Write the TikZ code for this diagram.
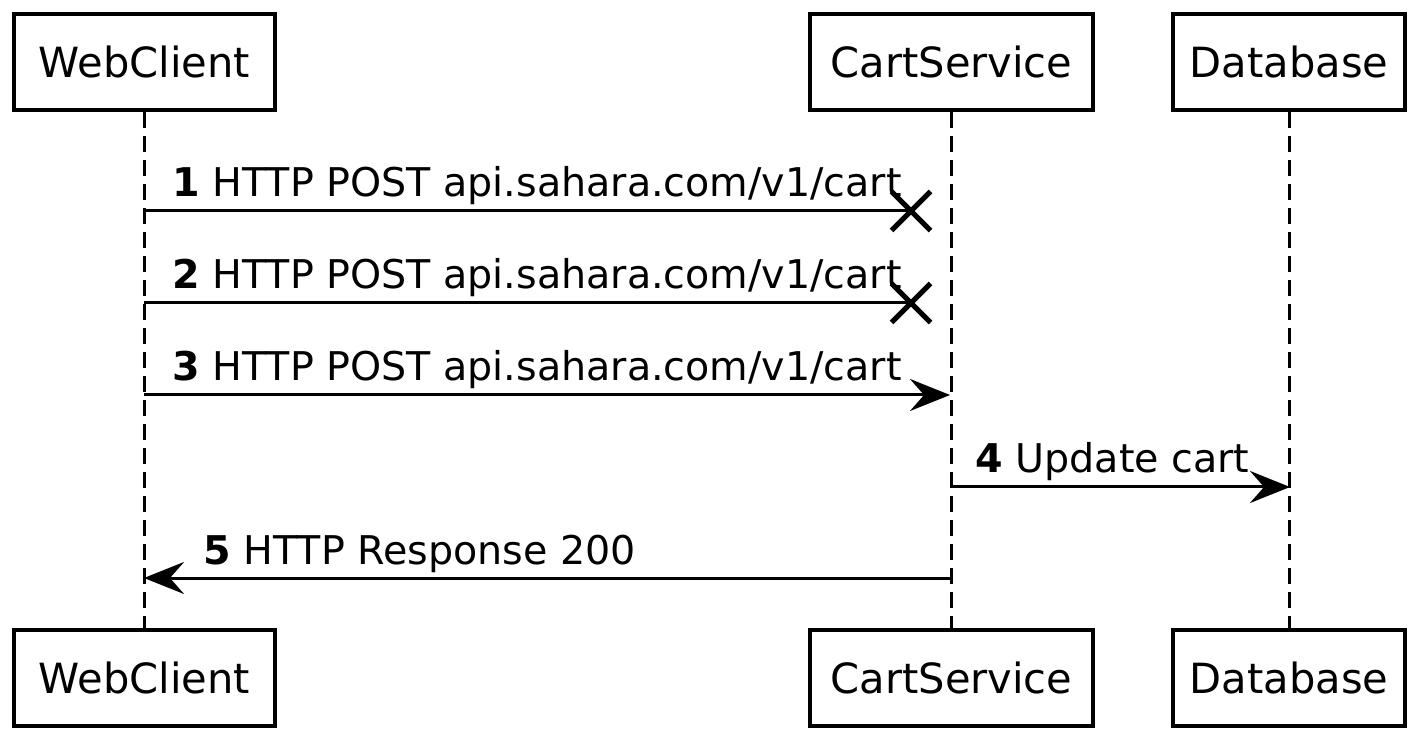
\documentclass[tikz,border=0pt]{standalone}
\usepackage{fontspec}
\setmainfont{DejaVu Sans}
\usetikzlibrary{positioning,arrows.meta,shapes.misc}

\begin{document}
\begin{tikzpicture}[x=0.5pt,y=-0.5pt,every node/.style={font=\fontsize{19.8}{24}\selectfont},
  actor/.style={draw,line width=2pt,minimum height=48pt,inner sep=0pt,font=\fontsize{20.8}{25}\selectfont},
  life/.style={line width=1.5pt,dash pattern=on 8pt off 4pt},
  msg/.style={line width=1.5pt},
  msgtip/.style={-{Stealth[length=20pt,width=16pt,inset=7pt]}},
  lost/.style={draw,cross out,line width=2.5pt,minimum size=17pt,inner sep=0pt},
  lbl/.style={anchor=base west,inner sep=0pt}]
\useasboundingbox (0,0) rectangle (1428,742);
\node[actor,minimum width=130.5pt] (wc) at (144.5,62) {WebClient};
\node[actor,minimum width=141.5pt] (cs) at (951.5,62) {CartService};
\node[actor,minimum width=116pt] (db) at (1289,62) {Database};
\node[actor,minimum width=130.5pt] (wcb) at (144.5,678) {WebClient};
\node[actor,minimum width=141.5pt] (csb) at (951.5,678) {CartService};
\node[actor,minimum width=116pt] (dbb) at (1289,678) {Database};
\draw[life] (wc.south) -- (wcb.north);
\draw[life] (cs.south) -- (csb.north);
\draw[life] (db.south) -- (dbb.north);
\foreach \y [count=\i] in {211,303,395,487,578} {
  \coordinate (w\i) at (144,\y);
  \coordinate (c\i) at (950,\y);
  \coordinate (d\i) at (1290,\y);
}
\node[lost] (x1) at (911,211) {};
\node[lost] (x2) at (911,303) {};
\draw[msg] (w1) -- (x1.center);
\draw[msg] (w2) -- (x2.center);
\draw[msg,msgtip] (w3) -- (c3);
\draw[msg,msgtip] (c4) -- (d4);
\draw[msg,msgtip] (c5) -- (w5);
\node[lbl] (l1) at (172,197) {\textbf{1} HTTP POST api.sahara.com/v1/cart};
\node[lbl] (l2) at (172,289) {\textbf{2} HTTP POST api.sahara.com/v1/cart};
\node[lbl] (l3) at (172,381) {\textbf{3} HTTP POST api.sahara.com/v1/cart};
\node[lbl] (l4) at (975,473) {\textbf{4} Update cart};
\node[lbl] (l5) at (203,564) {\textbf{5} HTTP Response 200};
\end{tikzpicture}
\end{document}
